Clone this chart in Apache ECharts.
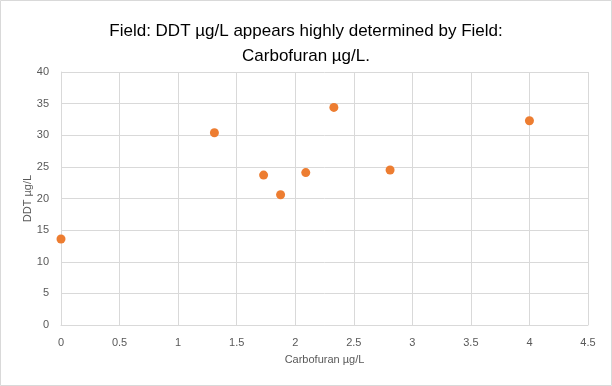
<!DOCTYPE html>
<html><head><meta charset="utf-8">
<script src="https://cdn.jsdelivr.net/npm/echarts@6/dist/echarts.min.js"></script>
<style>html,body{margin:0;padding:0;background:#fff}#c{width:612px;height:386px}</style>
</head><body><div id="c"></div>
<script>
var carbofuran = [0, 1.31, 1.73, 1.875, 2.09, 2.33, 2.81, 4.0];
var ddt = [13.6, 30.4, 23.7, 20.6, 24.1, 34.4, 24.5, 32.3];
var titleText = 'Field: DDT µg/L appears highly determined by Field:\nCarbofuran µg/L.';
var xName = 'Carbofuran µg/L', yName = 'DDT µg/L';
var points = carbofuran.map(function(x, i){ return [x, ddt[i]]; });
var font = 'Liberation Sans';
var chart = echarts.init(document.getElementById('c'), null, {renderer:'canvas'});
chart.setOption({
  animation:false,
  backgroundColor:'#fff',
  graphic:[{type:'rect', shape:{x:0.5,y:0.5,width:611,height:385}, style:{fill:'none', stroke:'#d9d9d9', lineWidth:1}, silent:true}],
  title:{text:titleText, left:'center', top:14, textStyle:{fontFamily:font, fontSize:17, fontWeight:'normal', color:'#000', lineHeight:25}},
  grid:{left:61, right:24, top:72, bottom:61},
  xAxis:{type:'value', min:0, max:4.5, interval:0.5, name:xName, nameLocation:'middle', nameGap:29, nameMoveOverlap:false,
    nameTextStyle:{fontFamily:font, fontSize:11, color:'#595959'},
    axisLine:{show:true, lineStyle:{color:'#d9d9d9'}}, axisTick:{show:false},
    axisLabel:{fontFamily:font, fontSize:11, color:'#595959', margin:12},
    splitLine:{show:true, lineStyle:{color:'#d9d9d9'}}},
  yAxis:{type:'value', min:0, max:40, interval:5, name:yName, nameLocation:'middle', nameGap:28, nameRotate:90, nameMoveOverlap:false,
    nameTextStyle:{fontFamily:font, fontSize:11, color:'#595959'},
    axisLine:{show:true, lineStyle:{color:'#d9d9d9'}}, axisTick:{show:false},
    axisLabel:{fontFamily:font, fontSize:11, color:'#595959', margin:12},
    splitLine:{show:true, lineStyle:{color:'#d9d9d9'}}},
  series:[{type:'scatter', data:points, symbol:'circle', symbolSize:9, itemStyle:{color:'#ED7D31', opacity:1}}]
});
</script></body></html>
